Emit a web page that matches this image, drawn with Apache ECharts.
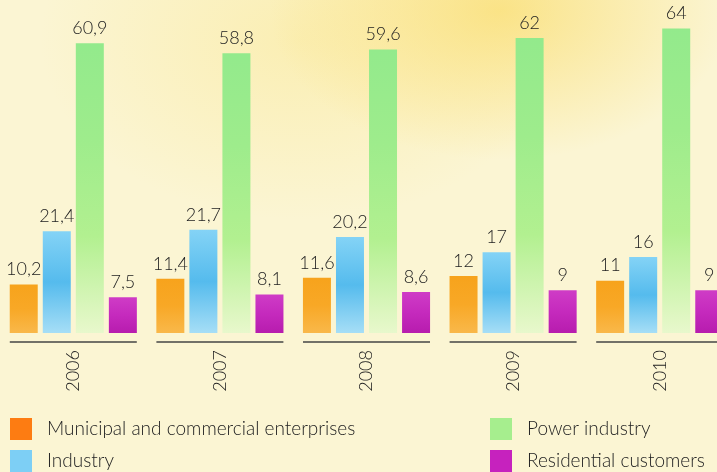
<!DOCTYPE html>
<html><head><meta charset="utf-8">
<script src="https://cdn.jsdelivr.net/npm/echarts@6/dist/echarts.min.js"></script>
<style>
html,body{margin:0;padding:0;}
body{width:717px;height:472px;overflow:hidden;
background:
radial-gradient(ellipse 230px 150px at 500px 10px, rgba(250,220,105,0.7), rgba(250,220,105,0) 100%),
radial-gradient(ellipse 260px 180px at 300px 40px, rgba(250,230,140,0.45), rgba(250,230,140,0) 100%),
#fbf5d3;}
#c{width:717px;height:472px;}
</style></head>
<body><div id="c"></div>
<script>
const years = ['2006','2007','2008','2009','2010'];
const seriesNames = ['Municipal and commercial enterprises','Industry','Power industry','Residential customers'];
const municipal = [10.2, 11.4, 11.6, 12, 11];
const industry = [21.4, 21.7, 20.2, 17, 16];
const power = [60.9, 58.8, 59.6, 62, 64];
const residential = [7.5, 8.1, 8.6, 9, 9];

const FONT = 'Lato';
const chart = echarts.init(document.getElementById('c'), null, {renderer:'canvas'});
function grad(stops){
  return new echarts.graphic.LinearGradient(0,0,0,1,stops.map((c,i)=>({offset:i/(stops.length-1), color:c})));
}
const label = {show:true, position:'top', distance:6, fontFamily:FONT, fontSize:18, fontWeight:300, color:'#222',
  formatter: p => String(p.value).replace('.', ',')};
function bar(name, data, color){
  return {name, type:'bar', data, barWidth:28, barGap:'18%', itemStyle:{color}, label, animation:false};
}
const legendText = {fontFamily:FONT, fontSize:19, fontWeight:300, color:'#222', padding:[0,0,0,10]};
chart.setOption({
  animation:false,
  grid:{left:0, width:733, top:0, bottom:139, containLabel:false, outerBoundsMode:'none'},
  xAxis:{type:'category', data:years, axisLine:{show:false}, axisTick:{show:false},
    axisLabel:{rotate:90, margin:17, fontFamily:FONT, fontSize:18, fontWeight:300, color:'#222'}},
  yAxis:{type:'value', min:0, max:70, show:false, splitLine:{show:false}},
  legend:[
    {orient:'vertical', left:10, top:418, padding:0, itemWidth:22, itemHeight:22, itemGap:10, textStyle:legendText,
     data:[{name:seriesNames[0], icon:'rect', itemStyle:{color:'#fd7c12'}},{name:seriesNames[1], icon:'rect', itemStyle:{color:'#7dcff5'}}]},
    {orient:'vertical', left:490, top:418, padding:0, itemWidth:22, itemHeight:22, itemGap:10, textStyle:legendText,
     data:[{name:seriesNames[2], icon:'rect', itemStyle:{color:'#a6ee8e'}},{name:seriesNames[3], icon:'rect', itemStyle:{color:'#c622be'}}]}
  ],
  series:[
    bar(seriesNames[0], municipal, grad(['#f7a31c','#f8a826','#f9b84a'])),
    bar(seriesNames[1], industry, grad(['#84d3f6','#55bbed','#a6def6'])),
    bar(seriesNames[2], power, grad(['#93ea8c','#9eec8c','#b2f090','#e8f8cc'])),
    bar(seriesNames[3], residential, grad(['#cf3cc6','#c52abd','#b71cae'])),
    {type:'custom', name:'axisSegments', silent:true, data:years.map(y=>[y,0]),
     encode:{x:0,y:1},
     renderItem:function(params, api){
       const p = api.coord([api.value(0), 0]);
       return {type:'line', shape:{x1:p[0]-63.5, y1:p[1]+9, x2:p[0]+63.5, y2:p[1]+9},
         style:{stroke:'#444', lineWidth:1.5}};
     }}
  ]
});
</script></body></html>
